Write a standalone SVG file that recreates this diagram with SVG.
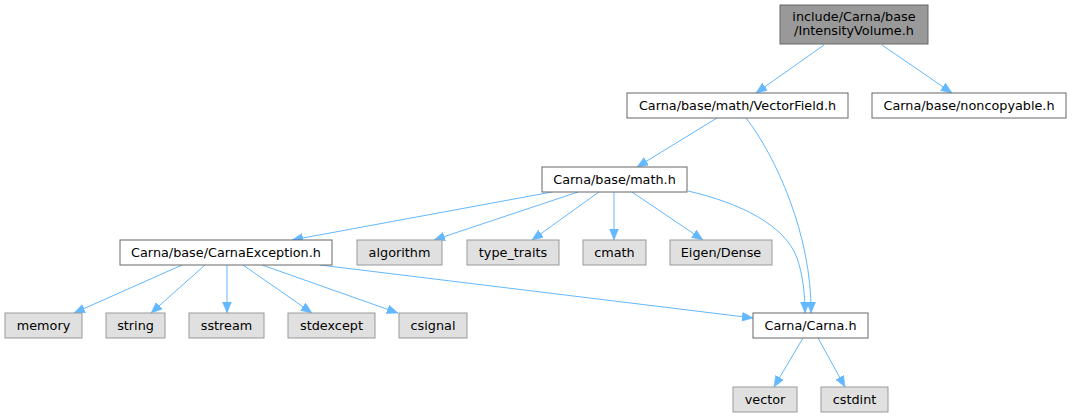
<svg xmlns="http://www.w3.org/2000/svg" width="1072" height="417" viewBox="0 0 1072 417">
<style>
.n rect{fill:#ffffff;stroke:#666666;stroke-width:1}
.g rect{fill:#e0e0e0;stroke:#999999;stroke-width:1}
.r rect{fill:#999999;stroke:#666666;stroke-width:1}
text{font-family:"DejaVu Sans",Verdana,sans-serif;font-size:12.8px;text-anchor:middle;fill:#000000}
.e path{fill:none;stroke:#63b8ff;stroke-width:1}
</style>
<defs>
<marker id="a" markerUnits="userSpaceOnUse" markerWidth="12" markerHeight="10" refX="11" refY="4.5" orient="auto">
<path d="M0,0 L11,4.5 L0,9 z" fill="#63b8ff" stroke="#63b8ff" stroke-width="0.5"/>
</marker>
</defs>
<rect width="1072" height="417" fill="#ffffff"/>
<g class="e">
<path marker-end="url(#a)" d="M824,45 L756,93"/>
<path marker-end="url(#a)" d="M882,45 L952,93"/>
<path marker-end="url(#a)" d="M717,118 L637,167"/>
<path marker-end="url(#a)" d="M746,118 C775,155 812,235 811,313"/>
<path marker-end="url(#a)" d="M552,192 L292,240"/>
<path marker-end="url(#a)" d="M578,192 L434,240"/>
<path marker-end="url(#a)" d="M599,192 L532,240"/>
<path marker-end="url(#a)" d="M614,192 L614,240"/>
<path marker-end="url(#a)" d="M632,192 L703,240"/>
<path marker-end="url(#a)" d="M688,191 C740,203 785,225 797,258 C803,275 805,295 805,313"/>
<path marker-end="url(#a)" d="M182,265 L74,313"/>
<path marker-end="url(#a)" d="M205,265 L151,313"/>
<path marker-end="url(#a)" d="M227,265 L227,313"/>
<path marker-end="url(#a)" d="M243,265 L312,313"/>
<path marker-end="url(#a)" d="M262,265 L398,313"/>
<path marker-end="url(#a)" d="M320,265 L753,318"/>
<path marker-end="url(#a)" d="M803,338 L774,387"/>
<path marker-end="url(#a)" d="M818,338 L845,387"/>
</g>
<g id="node1" class="r"><rect x="780" y="5" width="148" height="39"/><text x="854" y="20.5">include/Carna/base</text><text x="854" y="35">/IntensityVolume.h</text></g>
<g id="node2" class="n"><rect x="627" y="93" width="221" height="25"/><text x="737.5" y="109.5">Carna/base/math/VectorField.h</text></g>
<g id="node3" class="n"><rect x="872" y="93" width="194" height="25"/><text x="969" y="109.5">Carna/base/noncopyable.h</text></g>
<g id="node4" class="n"><rect x="542" y="167" width="145" height="25"/><text x="614.5" y="183.5">Carna/base/math.h</text></g>
<g id="node5" class="n"><rect x="120" y="240" width="212" height="25"/><text x="226" y="256.5">Carna/base/CarnaException.h</text></g>
<g id="node6" class="g"><rect x="357" y="240" width="85" height="25"/><text x="399.5" y="256.5">algorithm</text></g>
<g id="node7" class="g"><rect x="467" y="240" width="92" height="25"/><text x="513" y="256.5">type_traits</text></g>
<g id="node8" class="g"><rect x="583" y="240" width="63" height="25"/><text x="614.5" y="256.5">cmath</text></g>
<g id="node9" class="g"><rect x="670" y="240" width="102" height="25"/><text x="721" y="256.5">Eigen/Dense</text></g>
<g id="node10" class="g"><rect x="5" y="313" width="77" height="25"/><text x="43.5" y="329.5">memory</text></g>
<g id="node11" class="g"><rect x="106" y="313" width="59" height="25"/><text x="135.5" y="329.5">string</text></g>
<g id="node12" class="g"><rect x="189" y="313" width="75" height="25"/><text x="226.5" y="329.5">sstream</text></g>
<g id="node13" class="g"><rect x="288" y="313" width="87" height="25"/><text x="331.5" y="329.5">stdexcept</text></g>
<g id="node14" class="g"><rect x="399" y="313" width="68" height="25"/><text x="433" y="329.5">csignal</text></g>
<g id="node15" class="n"><rect x="753" y="313" width="115" height="25"/><text x="810.5" y="329.5">Carna/Carna.h</text></g>
<g id="node16" class="g"><rect x="733" y="387" width="64" height="25"/><text x="765" y="403.5">vector</text></g>
<g id="node17" class="g"><rect x="821" y="387" width="67" height="25"/><text x="854.5" y="403.5">cstdint</text></g>
</svg>
